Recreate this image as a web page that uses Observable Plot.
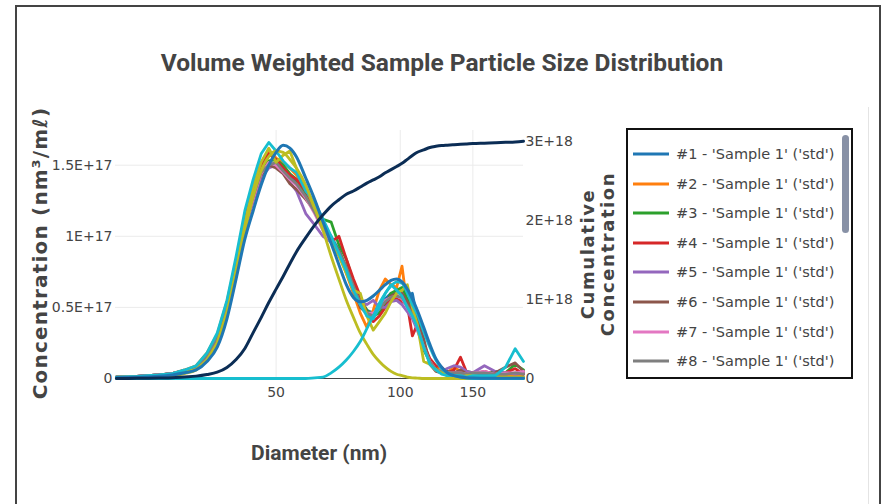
<!DOCTYPE html>
<html><head><meta charset="utf-8">
<script src="https://cdn.jsdelivr.net/npm/d3@7"></script>
<script src="https://cdn.jsdelivr.net/npm/@observablehq/plot@0.6"></script>
<style>
body{margin:0;background:#fff;}
#wrap{position:relative;width:895px;height:504px;overflow:hidden;background:#fff;}
.t{position:absolute;white-space:nowrap;color:#444;}
.ln{position:absolute;background:#444;}
</style></head><body>
<div id="wrap">
  <div id="chart" style="position:absolute;left:0;top:0"></div>
  <div class="ln" style="left:15px;top:5px;width:866px;height:2px"></div>
  <div class="ln" style="left:15px;top:5px;width:2px;height:499px"></div>
  <div class="ln" style="left:879px;top:5px;width:2px;height:499px"></div>
  <div class="ln" style="left:868px;top:107px;width:1px;height:397px;background:#e4e4e4"></div>
  <div id="title" class="t" style="left:442px;top:62px;transform:translate(-50%,-50%);font:700 24.5px Roboto;"></div>
  <div id="ytitle" class="t" style="left:40px;top:253px;transform:translate(-50%,-50%) rotate(-90deg);font:700 20px 'DejaVu Sans';letter-spacing:1.2px;"></div>
  <div id="y2title" class="t" style="left:598px;top:254px;transform:translate(-50%,-50%) rotate(-90deg);font:700 18px 'DejaVu Sans';letter-spacing:1.6px;line-height:20px;text-align:center;"></div>
  <div id="xtitle" class="t" style="left:319px;top:453px;transform:translate(-50%,-50%);font:700 21px Roboto;"></div>
  <div id="legend" style="position:absolute;left:626px;top:128px;width:223px;height:247px;border:2px solid #111;background:#fff;overflow:hidden;"></div>
</div>
<script>
// ---- text ----
const titleText = "Volume Weighted Sample Particle Size Distribution";
const xTitle = "Diameter (nm)";
const yTitle = "Concentration (nm³/mℓ)";
const y2Title = ["Cumulative", "Concentration"];

// ---- ticks ----
const xTicks = [50, 100, 150];
const yTicks = [0, 50, 100, 150];               // 1E15 nm³/mℓ
const yLabels = ["0", "0.5E+17", "1E+17", "1.5E+17"];
const y2Ticks = [0, 100, 200, 300];             // 1E16
const y2Labels = ["0", "1E+18", "2E+18", "3E+18"];

// ---- data: diameter (nm) ----
const diam = [20.5,23,26,28,30,32,34,36,38,40,42,44,46,48,50,52,54,56,
  59,62,65,68,71,74,77,80,83,86,89,92,95,98,101,104,107,110,114,118,122,126,130,135,140,145,150,160,170,180,190,199];

// concentration per sample, in 1E15 nm³/mℓ
const s1  = [1,1.5,2.5,3.5,5.5,8,15,27,48,76,106,127,143,150,152,148,142,138,
  128,118,108,100,90,78,64,55,48,46,52,56,60,58,56,52,60,42,24,12,6,4,3,3,2,2,3,2,1,2,2,1];
const s2  = [1,1.5,2.5,3.5,6,9,18,31,54,83,114,135,152,160,155,152,148,143,
  134,120,110,98,88,74,60,46,36,48,62,70,66,64,79,50,46,36,22,11,8,5,4,8,5,4,3,4,2,3,2,3];
const s3  = [1,1.5,2.5,3.5,5.5,8,16,28,50,78,110,130,146,153,154,150,144,140,
  130,119,112,110,94,84,68,56,48,44,46,52,60,62,64,56,48,40,20,12,7,4,3,4,3,5,4,3,5,4,10,6];
const s4  = [1,1.5,2.5,3.5,5.5,8,16,29,52,80,112,132,150,158,154,148,143,140,
  132,120,110,96,100,84,70,58,46,40,44,50,56,56,54,52,30,38,24,14,9,8,4,6,15,4,3,5,3,4,7,3];
const s5  = [1,1.5,2.5,3.5,5.5,8,15,27,48,75,105,124,141,148,150,145,138,132,
  116,108,100,96,88,76,62,54,52,55,50,50,54,55,52,47,42,34,22,12,6,5,7,9,8,5,4,9,5,4,3,4];
const s6  = [1,1.5,2.5,3.5,5.5,8,16,28,50,77,107,126,143,150,148,144,137,133,
  126,118,106,98,90,78,64,50,46,44,50,54,58,60,60,54,48,42,28,10,5,4,5,4,6,3,4,3,4,8,11,5];
const s7  = [1,1.5,2.5,3.5,5.5,8,16,28,50,77,107,126,144,152,150,145,140,136,
  127,116,104,96,88,76,64,52,46,46,50,55,57,58,56,50,44,36,22,12,6,5,4,4,4,3,4,5,3,4,4,5];
const s8  = [1,1.5,2.5,3.5,5.5,8,16,28,50,78,108,128,145,150,152,146,141,137,
  128,117,106,98,89,78,65,53,46,44,49,54,57,58,57,51,45,37,22,12,6,5,4,4,4,3,4,4,3,3,4,3];
const s9  = [1,1.2,2,3,4.5,6.5,13,25,47,77,110,134,152,162,152,157,160,148,
  134,120,108,96,86,74,62,60,44,34,40,46,54,60,62,66,50,38,12,10,6,4,2,2,1,2,2,1,1,1,1,1];
const s10 = [1,1.5,2.5,3.5,6,9,18,32,55,86,118,140,158,166,160,153,148,145,
  132,124,112,100,88,76,62,52,44,42,50,60,66,62,58,50,44,36,22,10,6,3,2,2,2,1,2,2,2,8,21,12];

// fitted curves, 1E15 nm³/mℓ
const fit1 = [0,0.3,1,2,3.5,6,13,25,45,72,103,128,146,156,160,159,154,148,
  136,120,104,86,70,55,43,32,24,17,12,8,5,3,2,1,0.5,0.3,0,0,0,0,0,0,0,0,0,0,0,0,0,0];
const fit2 = [0,0,0,0,0,0,0,0,0,0,0,0,0,0,0,0,0,0,
  0,0.5,1,4,8,13,19,26,35,44,53,60,65,68,67,60,52,45,33,22,13,7,4,2,1,0.3,0,0,0,0,0,0];
const fitSum = [0.5,0.8,1.5,2.5,4,6,12,22,42,70,98,118,136,150,159,164,162,156,
  141,126,110,95,80,66,57,54,55,58,62,66,69,70,68,63,56,48,36,24,14,8,4,2,1,0.5,0.3,0.2,0.1,0.1,0.1,0.1];

// cumulative concentration, 1E16 nm³/mℓ
const cumul = [0,0.2,0.6,1,2,3,5,8,14,24,38,58,77,96,113,129,145,160,
  178,194,207,218,226,233,237,242,247,251,255,260,264,268,272,277,282,286,289,292,293.5,294.5,295,295.5,296,296.5,297,297.5,298,298.5,299,300];

const sampleNames = ["#1 - 'Sample 1' ('std')","#2 - 'Sample 1' ('std')","#3 - 'Sample 1' ('std')","#4 - 'Sample 1' ('std')","#5 - 'Sample 1' ('std')","#6 - 'Sample 1' ('std')","#7 - 'Sample 1' ('std')","#8 - 'Sample 1' ('std')"];
const colors = ["#1f77b4","#ff7f0e","#2ca02c","#d62728","#9467bd","#8c564b","#e377c2","#7f7f7f","#bcbd22","#17becf"];
const navy = "#0b2d55";

const yMax = 174.4, y2Max = 313.5, ratio = yMax / y2Max;
const samples = [s1,s2,s3,s4,s5,s6,s7,s8,s9,s10];

const lineOf = (vals, color, w, curve = "linear", scale = 1) =>
  Plot.line(diam, {x: d => d, y: (d, i) => vals[i] * scale, stroke: color, strokeWidth: w, curve, strokeLinejoin: "round", strokeLinecap: "round"});

const chart = Plot.plot({
  width: 895, height: 504,
  marginLeft: 115, marginRight: 372, marginTop: 130, marginBottom: 126,
  style: {fontFamily: "'DejaVu Sans'", fontSize: "14px", color: "#444", background: "transparent"},
  x: {type: "log", domain: [20.4, 199]},
  y: {domain: [0, yMax]},
  marks: [
    Plot.gridX(xTicks, {stroke: "#ebebeb", strokeOpacity: 1}),
    Plot.gridY(yTicks.slice(1), {stroke: "#ebebeb", strokeOpacity: 1}),
    Plot.ruleY([0], {stroke: "#444", strokeWidth: 1}),
    ...samples.map((s, k) => lineOf(s, colors[k], 2.8)),
    lineOf(fit1, colors[8], 2.8, "monotone-x"),
    lineOf(fit2, colors[9], 2.8, "monotone-x"),
    lineOf(fitSum, colors[0], 3, "monotone-x"),
    lineOf(cumul, navy, 3, "monotone-x", ratio),
    Plot.axisX(xTicks, {tickSize: 0, tickPadding: 9, label: null, tickFormat: d => String(d)}),
    Plot.axisY(yTicks, {tickSize: 0, tickPadding: 3, label: null, tickFormat: d => yLabels[yTicks.indexOf(d)]}),
    Plot.axisY(y2Ticks, {anchor: "right", y: d => d * ratio, tickSize: 0, tickPadding: 2, label: null, tickFormat: d => y2Labels[y2Ticks.indexOf(d)]})
  ]
});
document.getElementById("chart").appendChild(chart);

document.getElementById("title").textContent = titleText;
document.getElementById("xtitle").textContent = xTitle;
document.getElementById("ytitle").textContent = yTitle;
document.getElementById("y2title").innerHTML = y2Title.join("<br>");

// legend
const leg = document.getElementById("legend");
sampleNames.forEach((name, k) => {
  const row = document.createElement("div");
  row.style.cssText = `position:absolute;left:5px;top:${11 + k * 29.6}px;height:26px;display:flex;align-items:center;`;
  row.innerHTML = `<svg width="36" height="6" style="margin-right:7px"><line x1="0" y1="3" x2="36" y2="3" stroke="${colors[k]}" stroke-width="3"/></svg>` +
    `<span style="font:14.5px 'DejaVu Sans';color:#444;white-space:nowrap">${name}</span>`;
  leg.appendChild(row);
});
const bar = document.createElement("div");
bar.style.cssText = "position:absolute;left:214px;top:5px;width:7px;height:98px;border-radius:4px;background:#8891a6;";
leg.appendChild(bar);
</script>
</body></html>
